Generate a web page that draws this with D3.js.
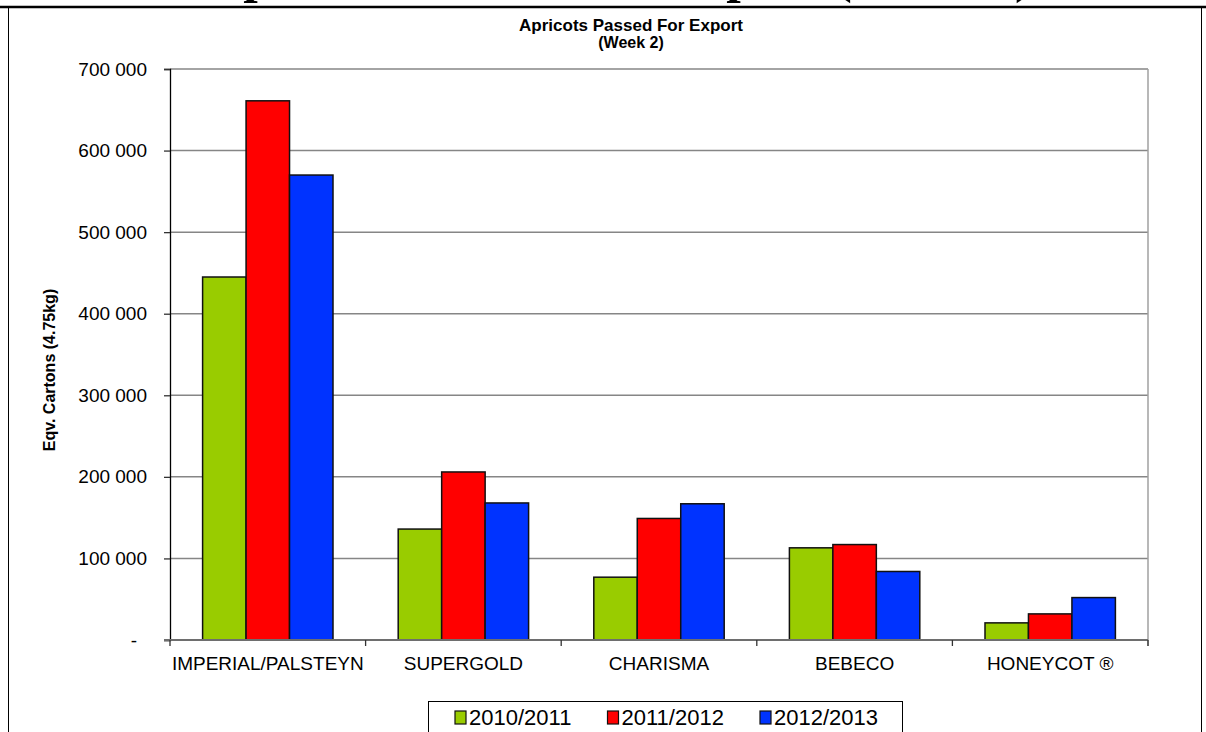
<!DOCTYPE html>
<html>
<head>
<meta charset="utf-8">
<script src="https://cdn.jsdelivr.net/npm/d3@7"></script>
<style>
  html, body { margin: 0; padding: 0; background: #ffffff; }
  svg { display: block; font-family: "Liberation Sans", Arial, sans-serif; }
</style>
</head>
<body>
<svg id="chart" width="1206" height="732"></svg>
<script>
// chart data
var categories = ["IMPERIAL/PALSTEYN", "SUPERGOLD", "CHARISMA", "BEBECO", "HONEYCOT \u00AE"];
var seasons = ["2010/2011", "2011/2012", "2012/2013"];
var season1011 = [445000, 136000, 77000, 113000, 21000];
var season1112 = [661000, 206000, 149000, 117000, 32000];
var season1213 = [570000, 168000, 167000, 84000, 52000];
var yTicks = [0, 100000, 200000, 300000, 400000, 500000, 600000, 700000];
var colours = ["#99CC00", "#FF0000", "#0033FF"];

var seriesValues = [season1011, season1112, season1213];

var svg = d3.select("#chart");

// plot area bounds
var plot = { left: 170, right: 1148, top: 69, bottom: 640 };

// space as thousands separator, "-" for zero (accounting style)
var locale = d3.formatLocale({ decimal: ".", thousands: " ", grouping: [3], currency: ["", ""] });
var fmt = locale.format(",.0f");

var x = d3.scaleBand().domain(categories).range([plot.left, plot.right]).padding(0);
var xInner = d3.scaleBand().domain(seasons)
  .range([x.bandwidth() / 6, x.bandwidth() * 5 / 6]);
var y = d3.scaleLinear().domain([0, 700000]).range([plot.bottom, plot.top]);

// big page heading, mostly cut off at top of the picture
svg.append("text")
  .attr("x", 619)
  .attr("y", -8)
  .attr("text-anchor", "middle")
  .style("font-family", "'Liberation Serif', 'Times New Roman', serif")
  .style("font-weight", "bold")
  .style("font-size", "52px")
  .text("Apricots Passed For Export (Week 2)");

// thick rule under heading and frame round chart
svg.append("line")
  .attr("x1", 0).attr("x2", 1206).attr("y1", 7).attr("y2", 7)
  .attr("stroke", "#000").attr("stroke-width", 2.5);
svg.append("line")
  .attr("x1", 8.5).attr("x2", 8.5).attr("y1", 8).attr("y2", 732)
  .attr("stroke", "#000").attr("stroke-width", 1);
svg.append("line")
  .attr("x1", 1201.5).attr("x2", 1201.5).attr("y1", 8).attr("y2", 732)
  .attr("stroke", "#000").attr("stroke-width", 1);

// chart title
svg.append("text")
  .attr("x", 631).attr("y", 31)
  .attr("text-anchor", "middle")
  .style("font-weight", "bold").style("font-size", "17px")
  .text("Apricots Passed For Export");
svg.append("text")
  .attr("x", 631).attr("y", 48)
  .attr("text-anchor", "middle")
  .style("font-weight", "bold").style("font-size", "16px")
  .text("(Week 2)");

// gridlines
svg.append("g")
  .selectAll("line")
  .data(yTicks.filter(function (d) { return d > 0; }))
  .join("line")
  .attr("x1", plot.left).attr("x2", plot.right)
  .attr("y1", function (d) { return y(d); })
  .attr("y2", function (d) { return y(d); })
  .attr("stroke", "#868686").attr("stroke-width", 1.5);

// right edge of plot area
svg.append("line")
  .attr("x1", plot.right).attr("x2", plot.right)
  .attr("y1", plot.top).attr("y2", plot.bottom + 6)
  .attr("stroke", "#a0a0a0").attr("stroke-width", 1.5);

// bars
var groups = svg.append("g")
  .selectAll("g")
  .data(categories)
  .join("g")
  .attr("transform", function (d) { return "translate(" + x(d) + ",0)"; });

groups.selectAll("rect")
  .data(function (d, i) {
    return seasons.map(function (s, j) { return { season: s, value: seriesValues[j][i], k: j }; });
  })
  .join("rect")
  .attr("x", function (d) { return xInner(d.season); })
  .attr("width", xInner.bandwidth())
  .attr("y", function (d) { return y(d.value); })
  .attr("height", function (d) { return y(0) - y(d.value); })
  .attr("fill", function (d) { return colours[d.k]; })
  .attr("stroke", "#111").attr("stroke-width", 1.5);

// y axis
var yAxis = svg.append("g")
  .attr("transform", "translate(" + plot.left + ",0)")
  .call(d3.axisLeft(y).tickValues(yTicks).tickSize(6).tickPadding(17)
    .tickFormat(function (d) { return d === 0 ? "-" : fmt(d); }));
yAxis.select(".domain").attr("stroke", "#000").attr("stroke-width", 1.3);
yAxis.selectAll(".tick line").attr("stroke", "#333").attr("stroke-width", 1.3);
yAxis.selectAll(".tick text")
  .style("font-size", "19px").attr("fill", "#000")
  .attr("dx", function (d) { return d === 0 ? -10 : 0; });

// x axis, ticks at category boundaries
var xAxis = svg.append("g")
  .attr("transform", "translate(0," + plot.bottom + ")");
xAxis.append("line")
  .attr("x1", plot.left - 6).attr("x2", plot.right)
  .attr("stroke", "#6e6e6e").attr("stroke-width", 2);
xAxis.selectAll(".xtick")
  .data(categories.concat(["end"]))
  .join("line")
  .attr("class", "xtick")
  .attr("x1", function (d, i) { return plot.left + i * x.bandwidth(); })
  .attr("x2", function (d, i) { return plot.left + i * x.bandwidth(); })
  .attr("y1", 0).attr("y2", 6)
  .attr("stroke", "#333").attr("stroke-width", 1.3);
xAxis.selectAll(".xlabel")
  .data(categories)
  .join("text")
  .attr("class", "xlabel")
  .attr("x", function (d) { return x(d) + x.bandwidth() / 2; })
  .attr("y", 30)
  .attr("text-anchor", "middle")
  .style("font-size", "19px")
  .text(function (d) { return d; });

// y axis title
svg.append("text")
  .attr("transform", "translate(55,370) rotate(-90)")
  .attr("text-anchor", "middle")
  .style("font-weight", "bold").style("font-size", "16px")
  .text("Eqv. Cartons (4.75kg)");

// legend
var legend = svg.append("g");
legend.append("rect")
  .attr("x", 428.5).attr("y", 701.5).attr("width", 474).attr("height", 40)
  .attr("fill", "#fff").attr("stroke", "#000").attr("stroke-width", 1);

var legendItems = legend.selectAll(".legend-item")
  .data(seasons)
  .join("g")
  .attr("class", "legend-item")
  .attr("transform", function (d, i) { return "translate(" + (455 + i * 152.5) + ",0)"; });
legendItems.append("rect")
  .attr("x", 0).attr("y", 711).attr("width", 11).attr("height", 13)
  .attr("fill", function (d, i) { return colours[i]; })
  .attr("stroke", "#111").attr("stroke-width", 1.2);
legendItems.append("text")
  .attr("x", 14).attr("y", 725)
  .style("font-size", "22px")
  .text(function (d) { return d; });
</script>
</body>
</html>
